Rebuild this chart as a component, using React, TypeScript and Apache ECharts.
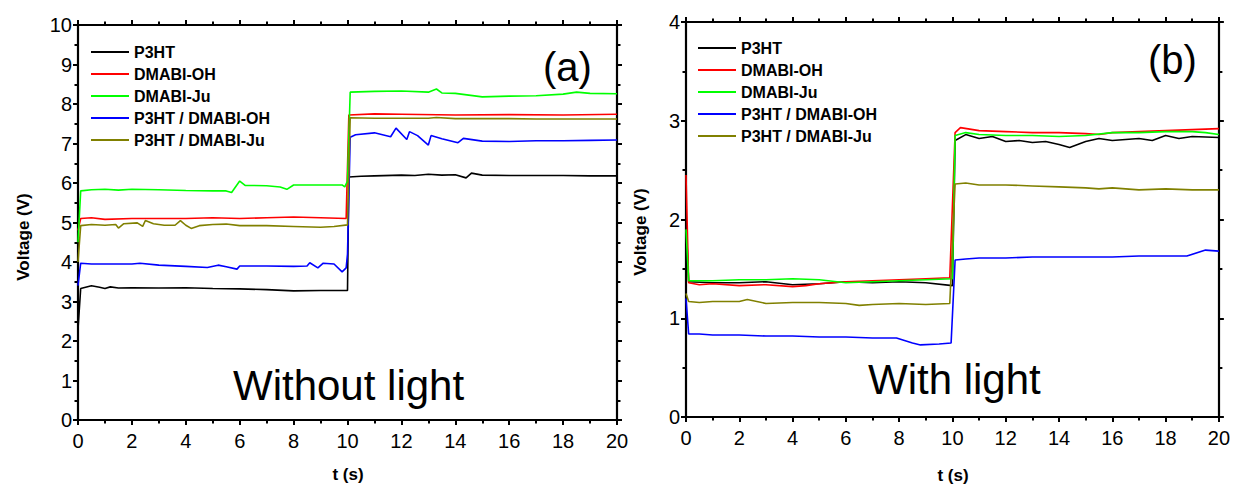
import React, { useEffect, useRef } from "react";
import * as echarts from "echarts";

const SERIES_NAMES = ["P3HT", "DMABI-OH", "DMABI-Ju", "P3HT / DMABI-OH", "P3HT / DMABI-Ju"];
const COLORS = ["#000000", "#ff0000", "#00ff00", "#0000ff", "#808000"];

// Panel (a): without light
const p3htA = [[0,2.3],[0.1,3.33],[0.5,3.4],[0.8,3.36],[1,3.33],[1.2,3.37],[1.5,3.34],[2,3.35],[3,3.34],[4,3.35],[5,3.33],[6,3.32],[7,3.3],[8,3.27],[9,3.28],[10,3.28],[10.05,6.15],[10.5,6.17],[11,6.18],[12,6.2],[12.5,6.19],[13,6.22],[13.5,6.2],[14,6.21],[14.4,6.13],[14.6,6.25],[15,6.2],[16,6.19],[17,6.19],[18,6.19],[19,6.18],[20,6.18]];
const ohA = [[0,4.8],[0.1,5.1],[0.5,5.12],[1,5.08],[2,5.1],[3,5.1],[4,5.1],[5,5.12],[6,5.1],[7,5.12],[8,5.14],[9,5.12],[9.95,5.1],[10.05,7.72],[11,7.75],[12,7.74],[14,7.72],[16,7.73],[18,7.72],[20,7.74]];
const juA = [[0,4.5],[0.1,5.8],[0.5,5.83],[1,5.84],[1.5,5.82],[2,5.84],[3,5.83],[4,5.81],[5,5.8],[5.5,5.8],[5.7,5.76],[6.0,6.05],[6.2,5.94],[7,5.93],[7.5,5.9],[7.75,5.84],[8,5.95],[9,5.95],[9.8,5.95],[9.9,5.9],[10.0,6.05],[10.1,8.3],[11,8.32],[12,8.33],[13,8.3],[13.3,8.38],[13.5,8.28],[14,8.27],[15,8.18],[16,8.2],[17,8.21],[18,8.25],[18.5,8.3],[19,8.27],[20,8.26]];
const p3htOhA = [[0,3.4],[0.1,3.97],[0.5,3.95],[1,3.95],[1.5,3.95],[2,3.95],[2.3,3.97],[3,3.92],[4,3.89],[4.8,3.86],[5.2,3.92],[5.5,3.88],[5.9,3.82],[6,3.9],[7,3.9],[8,3.89],[8.5,3.9],[8.6,3.98],[8.9,3.85],[9.1,3.97],[9.5,3.95],[9.8,3.75],[9.95,3.85],[10,4.2],[10.1,7.16],[10.3,7.22],[11,7.27],[11.6,7.17],[11.8,7.39],[12.2,7.1],[12.3,7.3],[12.6,7.2],[13,6.96],[13.1,7.2],[13.5,7.12],[14.1,7.02],[14.3,7.13],[15,7.06],[16,7.05],[17,7.07],[18,7.07],[19,7.08],[20,7.09]];
const p3htJuA = [[0,4.0],[0.1,4.92],[0.5,4.95],[1,4.93],[1.4,4.95],[1.5,4.86],[1.7,4.97],[2.2,4.99],[2.4,4.9],[2.5,5.05],[2.8,4.97],[3.2,4.93],[3.6,4.93],[3.8,5.05],[4.0,4.93],[4.2,4.85],[4.5,4.92],[5,4.95],[5.5,4.96],[6,4.92],[7,4.92],[8,4.9],[9,4.88],[9.5,4.9],[10,4.94],[10.1,7.65],[11,7.64],[12,7.64],[13,7.64],[13.3,7.66],[14,7.63],[15,7.63],[16,7.63],[17,7.62],[18,7.62],[19,7.62],[20,7.62]];

// Panel (b): with light
const p3htB = [[0,2.0],[0.1,1.37],[1,1.36],[2,1.36],[3,1.37],[4,1.34],[5,1.35],[6,1.37],[7,1.36],[8,1.37],[9,1.36],[10,1.33],[10.1,2.8],[10.5,2.86],[11,2.82],[11.5,2.84],[12,2.79],[12.5,2.8],[13,2.78],[13.5,2.79],[14,2.76],[14.4,2.73],[15,2.79],[15.5,2.82],[16,2.8],[17,2.82],[17.5,2.8],[18,2.85],[18.5,2.82],[19,2.84],[20,2.83]];
const ohB = [[0,2.45],[0.1,1.36],[0.5,1.34],[1,1.35],[2,1.33],[3,1.34],[4,1.32],[4.5,1.33],[5,1.35],[6,1.37],[7,1.38],[8,1.39],[9,1.4],[9.9,1.41],[10.1,2.88],[10.3,2.93],[11,2.9],[12,2.89],[13,2.88],[14,2.88],[15,2.87],[15.5,2.86],[16,2.88],[17,2.89],[18,2.9],[19,2.91],[20,2.92]];
const juB = [[0,1.9],[0.1,1.38],[1,1.38],[2,1.39],[3,1.39],[4,1.4],[5,1.39],[6,1.36],[7,1.37],[8,1.38],[9,1.39],[10,1.4],[10.1,2.85],[10.5,2.88],[11,2.86],[12,2.85],[13,2.85],[14,2.84],[15,2.85],[16,2.88],[17,2.88],[18,2.89],[19,2.89],[19.5,2.88],[20,2.86]];
const p3htOhB = [[0,1.2],[0.1,0.84],[0.5,0.84],[1,0.83],[2,0.83],[3,0.82],[4,0.82],[5,0.81],[6,0.81],[7,0.8],[7.9,0.8],[8.5,0.75],[8.8,0.73],[9.5,0.74],[9.95,0.75],[10.1,1.59],[10.5,1.6],[11,1.61],[12,1.61],[13,1.62],[14,1.62],[15,1.62],[16,1.62],[17,1.63],[18,1.63],[18.8,1.63],[19.5,1.69],[20,1.68]];
const p3htJuB = [[0,1.25],[0.1,1.17],[0.5,1.16],[1,1.17],[2,1.17],[2.3,1.19],[3,1.15],[4,1.16],[5,1.16],[6,1.15],[6.5,1.13],[7,1.14],[8,1.15],[9,1.14],[9.9,1.15],[10.1,2.36],[10.5,2.37],[11,2.35],[12,2.35],[13,2.34],[14,2.33],[15,2.32],[15.5,2.31],[16,2.32],[17,2.3],[18,2.31],[19,2.3],[20,2.3]];

const X_TICKS = { min: 0, max: 20, interval: 2 };
const Y_A = { min: 0, max: 10, interval: 1 };
const Y_B = { min: 0, max: 4, interval: 1 };

const FONT = "'Liberation Sans', Arial, sans-serif";

function axisCommon(showLabel: boolean, margin: number) {
  return {
    axisLine: { show: true, onZero: false, lineStyle: { color: "#000", width: 2.2 } },
    axisTick: { show: true, inside: false, length: 5, lineStyle: { color: "#000", width: 2 } },
    minorTick: { show: true, splitNumber: 2, length: 3.5, lineStyle: { color: "#000", width: 2 } },
    splitLine: { show: false },
    minorSplitLine: { show: false },
    axisLabel: { show: showLabel, color: "#000", fontSize: 20, fontFamily: FONT, margin },
  };
}

export default function App() {
  const ref = useRef<HTMLDivElement>(null);
  useEffect(() => {
    document.body.style.margin = "0";
    if (!ref.current) return;
    const chart = echarts.init(ref.current, null, { renderer: "svg" });
    const dataA = [p3htA, ohA, juA, p3htOhA, p3htJuA];
    const dataB = [p3htB, ohB, juB, p3htOhB, p3htJuB];
    const series: any[] = [];
    dataA.forEach((d, i) =>
      series.push({
        type: "line", name: SERIES_NAMES[i], data: d, xAxisIndex: 0, yAxisIndex: 0,
        symbol: "none", showSymbol: false, lineStyle: { color: COLORS[i], width: 1.6 }, itemStyle: { color: COLORS[i] },
      })
    );
    dataB.forEach((d, i) =>
      series.push({
        type: "line", name: SERIES_NAMES[i], data: d, xAxisIndex: 2, yAxisIndex: 2,
        symbol: "none", showSymbol: false, lineStyle: { color: COLORS[i], width: 1.6 }, itemStyle: { color: COLORS[i] },
      })
    );
    const legendCommon = {
      orient: "vertical",
      data: SERIES_NAMES,
      icon: "rect",
      itemWidth: 38,
      itemHeight: 2,
      itemGap: 6,
      selectedMode: false,
      textStyle: { color: "#000", fontSize: 16, fontWeight: "bold", fontFamily: FONT, lineHeight: 16 },
    };
    const option: any = {
      animation: false,
      backgroundColor: "#fff",
      grid: [
        { left: 78, right: 616, top: 25, bottom: 67 },
        { left: 686, right: 12, top: 22, bottom: 70 },
      ],
      legend: [
        { ...legendCommon, left: 86, top: 39 },
        { ...legendCommon, left: 693, top: 35 },
      ],
      xAxis: [
        { type: "value", gridIndex: 0, position: "bottom", ...X_TICKS, ...axisCommon(true, 11) },
        { type: "value", gridIndex: 0, position: "top", ...X_TICKS, ...axisCommon(false, 8) },
        { type: "value", gridIndex: 1, position: "bottom", ...X_TICKS, ...axisCommon(true, 11) },
        { type: "value", gridIndex: 1, position: "top", ...X_TICKS, ...axisCommon(false, 8) },
      ],
      yAxis: [
        { type: "value", gridIndex: 0, position: "left", ...Y_A, ...axisCommon(true, 6) },
        { type: "value", gridIndex: 0, position: "right", ...Y_A, ...axisCommon(false, 8) },
        { type: "value", gridIndex: 1, position: "left", ...Y_B, ...axisCommon(true, 6) },
        { type: "value", gridIndex: 1, position: "right", ...Y_B, ...axisCommon(false, 8) },
      ],
      graphic: [
        { type: "text", x: 23, y: 237, rotation: Math.PI / 2, style: { text: "Voltage (V)", fill: "#000", font: `bold 17px ${FONT}`, align: "center", verticalAlign: "middle" } },
        { type: "text", x: 640, y: 232, rotation: Math.PI / 2, style: { text: "Voltage (V)", fill: "#000", font: `bold 17px ${FONT}`, align: "center", verticalAlign: "middle" } },
        { type: "text", x: 348, y: 474, style: { text: "t (s)", fill: "#000", font: `bold 17px ${FONT}`, align: "center", verticalAlign: "middle" } },
        { type: "text", x: 953, y: 475, style: { text: "t (s)", fill: "#000", font: `bold 17px ${FONT}`, align: "center", verticalAlign: "middle" } },
        { type: "text", x: 543, y: 67, style: { text: "(a)", fill: "#000", font: `40px ${FONT}`, align: "left", verticalAlign: "middle" } },
        { type: "text", x: 1148, y: 60, style: { text: "(b)", fill: "#000", font: `40px ${FONT}`, align: "left", verticalAlign: "middle" } },
        { type: "text", x: 233, y: 385, style: { text: "Without light", fill: "#000", font: `42px ${FONT}`, align: "left", verticalAlign: "middle" } },
        { type: "text", x: 868, y: 379, style: { text: "With light", fill: "#000", font: `42px ${FONT}`, align: "left", verticalAlign: "middle" } },
      ],
      series,
    };
    chart.setOption(option);
    return () => chart.dispose();
  }, []);
  return <div ref={ref} style={{ width: 1233, height: 487 }} />;
}
